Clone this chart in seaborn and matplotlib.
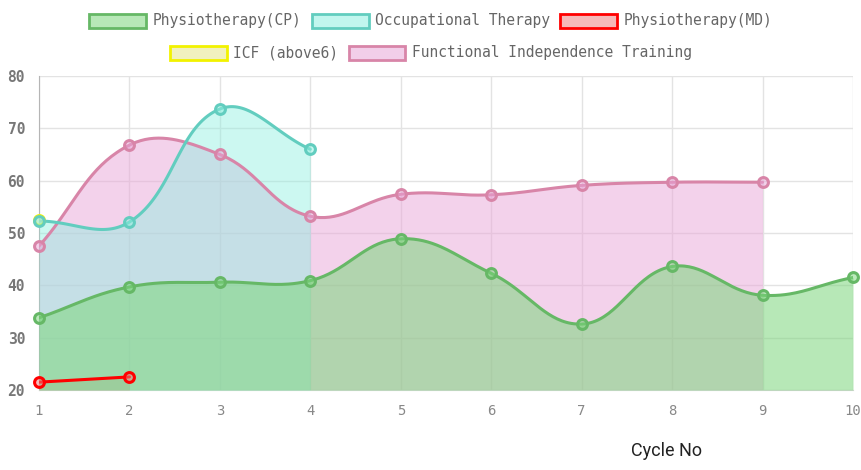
import numpy as np
import seaborn as sns
import matplotlib.pyplot as plt
from matplotlib.patches import Patch
from matplotlib.colors import to_rgba

# Data
cycles = [1, 2, 3, 4, 5, 6, 7, 8, 9, 10]
physio_cp = [33.8, 39.7, 40.6, 40.9, 48.9, 42.3, 32.6, 43.6, 38.1, 41.5]
occupational = [52.3, 52.1, 73.7, 66.0]
physio_md = [21.5, 22.5]
icf_above6 = [52.5]
fit_training = [47.5, 66.8, 65.0, 53.2, 57.4, 57.3, 59.1, 59.7, 59.7]

series = [
    # label, values, line colour, fill colour, fill alpha, zorder
    ("Physiotherapy(CP)", physio_cp, "#66b866", "#7cd67c", 0.55, 5),
    ("Occupational Therapy", occupational, "#62cdbf", "#8ff0e0", 0.45, 4),
    ("Physiotherapy(MD)", physio_md, "#ff0000", "#f08080", 0.55, 3),
    ("ICF (above6)", icf_above6, "#f2f200", "#e6e68a", 0.55, 2),
    ("Functional Independence Training", fit_training, "#d885a8", "#e9a6d8", 0.5, 1),
]

W, H = 862, 470
sns.set_style("white")
fig = plt.figure(figsize=(W / 100, H / 100), dpi=100)
ax = fig.add_axes([39 / W, 1 - 390 / H, (853 - 39) / W, (390 - 76) / H])

xmin, xmax, ymin, ymax = 1, 10, 20, 80
px_x = (853 - 39) / (xmax - xmin)
px_y = (390 - 76) / (ymax - ymin)


def smooth(xs, ys, tension=0.4, n=40):
    # bezier spline like chart.js, computed in pixel space
    p = np.column_stack([np.array(xs, float) * px_x, np.array(ys, float) * px_y])
    m = len(p)
    if m < 3:
        return np.array(xs, float), np.array(ys, float)
    cp_prev = np.zeros_like(p)
    cp_next = np.zeros_like(p)
    for i in range(m):
        a = p[max(i - 1, 0)]
        b = p[i]
        c = p[min(i + 1, m - 1)]
        d01 = np.hypot(*(b - a))
        d12 = np.hypot(*(c - b))
        tot = d01 + d12
        s01 = d01 / tot if tot else 0
        s12 = d12 / tot if tot else 0
        cp_prev[i] = b - tension * s01 * (c - a)
        cp_next[i] = b + tension * s12 * (c - a)
    t = np.linspace(0, 1, n)[:, None]
    out = []
    for i in range(m - 1):
        p0, p1, p2, p3 = p[i], cp_next[i], cp_prev[i + 1], p[i + 1]
        seg = ((1 - t) ** 3) * p0 + 3 * ((1 - t) ** 2) * t * p1 + 3 * (1 - t) * t ** 2 * p2 + t ** 3 * p3
        out.append(seg if i == 0 else seg[1:])
    out = np.vstack(out)
    return out[:, 0] / px_x, out[:, 1] / px_y


for label, vals, lc, fc, alpha, z in series:
    xs = cycles[:len(vals)]
    sx, sy = smooth(xs, vals)
    if len(vals) > 1:
        ax.fill_between(sx, sy, ymin, color=fc, alpha=alpha, lw=0, zorder=z)
        ax.plot(sx, sy, color=lc, lw=2.2, zorder=z + 10, solid_capstyle="round")
    pts = sns.scatterplot(x=xs, y=vals, ax=ax, s=50, marker="o", facecolor=to_rgba(fc, 0.5),
                          edgecolor=lc, linewidth=2.2, zorder=z + 20, legend=False)
for coll in ax.collections:
    coll.set_clip_on(False)

ax.set_xlim(xmin, xmax)
ax.set_ylim(ymin, ymax)
ax.set_xticks(cycles)
ax.set_yticks(range(20, 81, 10))
ax.grid(True, color="#e3e3e3", lw=1)
ax.set_axisbelow(True)
for side in ["top", "right"]:
    ax.spines[side].set_visible(False)
ax.spines["left"].set_color("#b5b5b5")
ax.spines["bottom"].set_color("#d8d8d8")
ax.tick_params(axis="both", length=6, color="#dddddd", pad=4, direction="out")
for lab in ax.get_yticklabels():
    lab.set_fontfamily("DejaVu Sans Mono")
    lab.set_fontsize(10.5)
    lab.set_fontweight("bold")
    lab.set_color("#777777")
for lab in ax.get_xticklabels():
    lab.set_fontfamily("DejaVu Sans Mono")
    lab.set_fontsize(10)
    lab.set_color("#888888")
ax.set_xlabel("")
ax.set_ylabel("")

# legend: two centred rows like the original
handles = [Patch(facecolor=to_rgba(fc, 0.55), edgecolor=lc, linewidth=2, label=label)
           for label, vals, lc, fc, alpha, z in series]
leg_kw = dict(frameon=False, handlelength=3.9, handleheight=1.1, handletextpad=0.45,
              columnspacing=0.7, borderaxespad=0,
              prop={"family": "DejaVu Sans Mono", "size": 10.5}, labelcolor="#666666")
leg1 = fig.legend(handles=handles[:3], loc="center", ncol=3,
                  bbox_to_anchor=(0.5, 1 - 21 / H), **leg_kw)
leg2 = fig.legend(handles=handles[3:], loc="center", ncol=2,
                  bbox_to_anchor=(0.5, 1 - 53 / H), **leg_kw)

fig.text(667 / W, 1 - 451 / H, "Cycle No", ha="center", va="center",
         fontfamily="Roboto", fontsize=13, color="#222222")

fig.savefig("out.png", dpi=100)
